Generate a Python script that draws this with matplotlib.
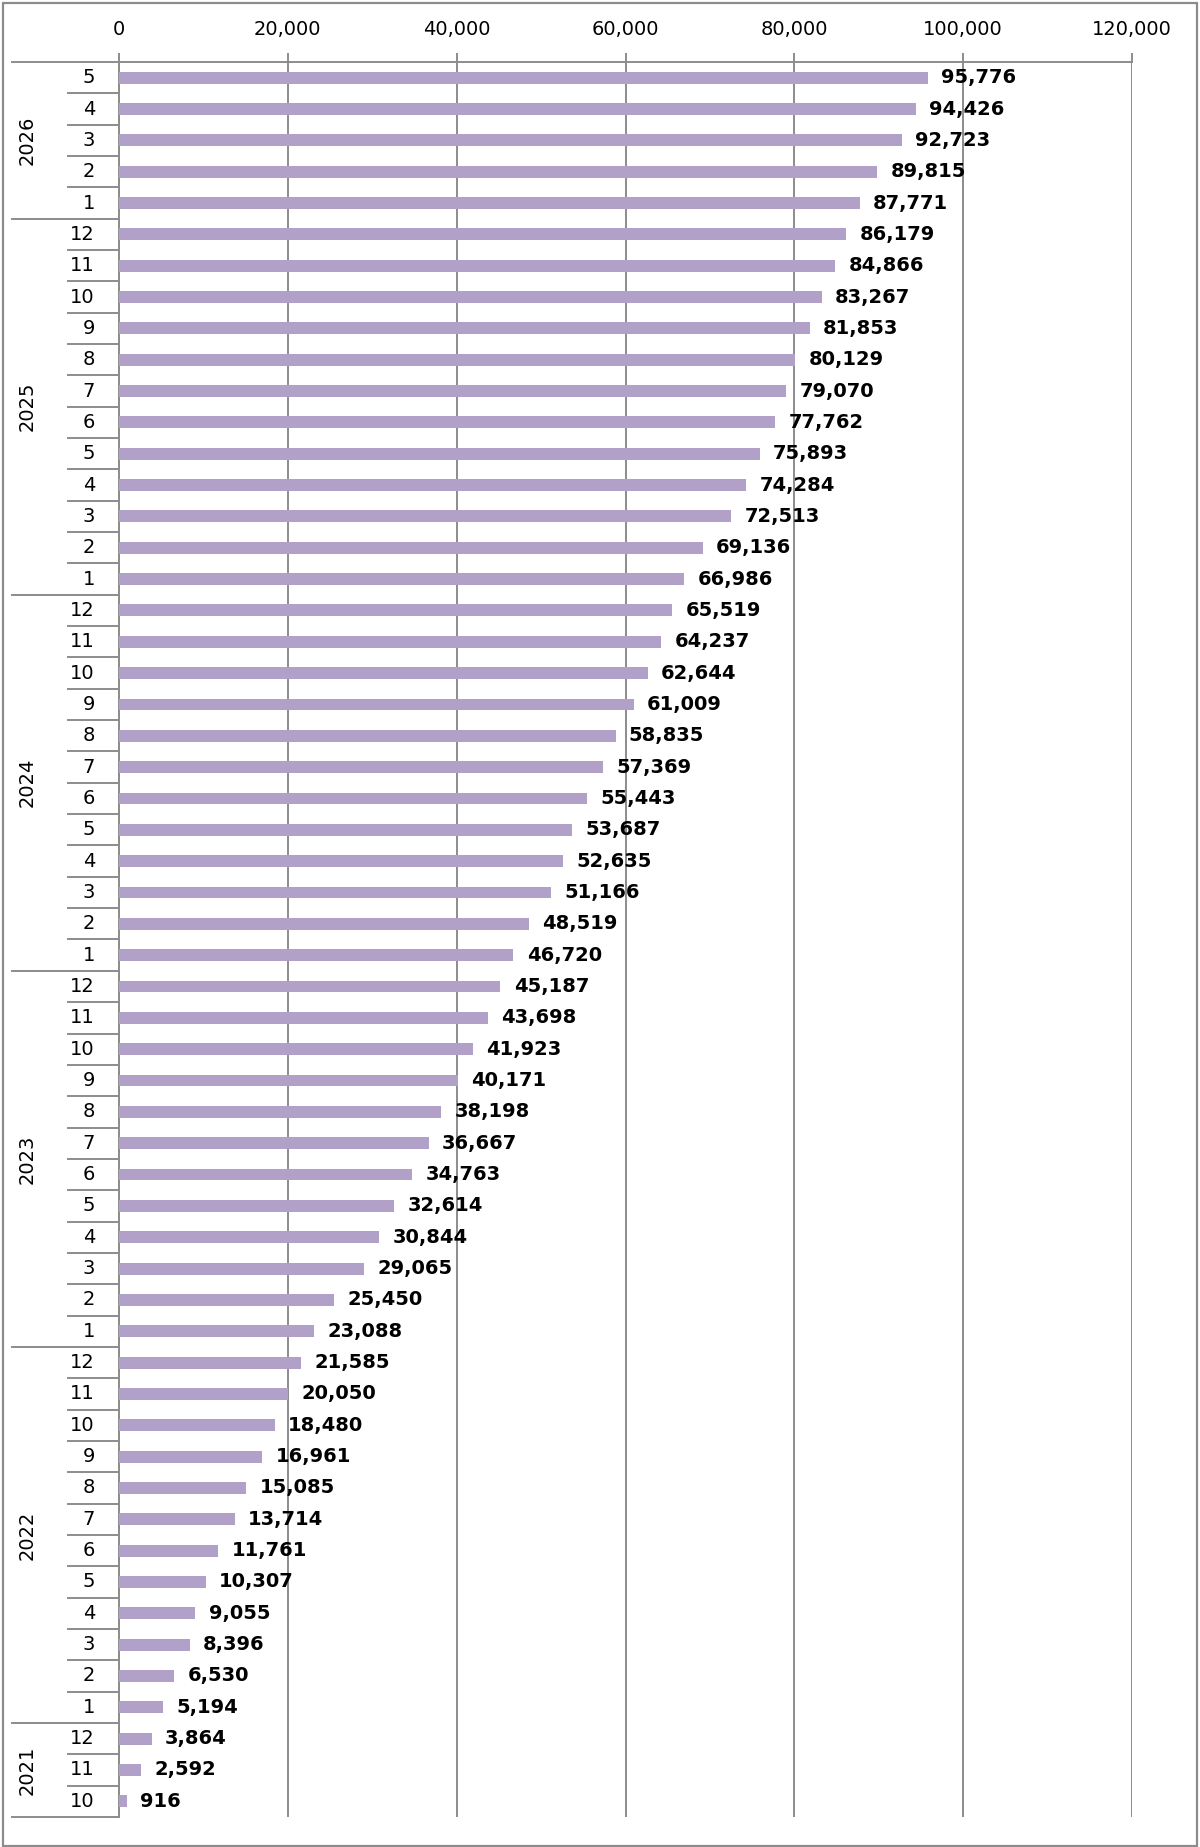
import matplotlib
matplotlib.use("Agg")
import matplotlib.pyplot as plt
import matplotlib.transforms as mtransforms
from matplotlib.lines import Line2D
from matplotlib.patches import Rectangle
from matplotlib.ticker import FuncFormatter

# ---- data (chronological) ----
years = [2021, 2022, 2023, 2024, 2025, 2026]
months_per_year = {
    2021: [10, 11, 12],
    2022: list(range(1, 13)),
    2023: list(range(1, 13)),
    2024: list(range(1, 13)),
    2025: list(range(1, 13)),
    2026: [1, 2, 3, 4, 5],
}
values_2021 = [916, 2592, 3864]
values_2022 = [5194, 6530, 8396, 9055, 10307, 11761, 13714, 15085, 16961, 18480, 20050, 21585]
values_2023 = [23088, 25450, 29065, 30844, 32614, 34763, 36667, 38198, 40171, 41923, 43698, 45187]
values_2024 = [46720, 48519, 51166, 52635, 53687, 55443, 57369, 58835, 61009, 62644, 64237, 65519]
values_2025 = [66986, 69136, 72513, 74284, 75893, 77762, 79070, 80129, 81853, 83267, 84866, 86179]
values_2026 = [87771, 89815, 92723, 94426, 95776]
x_ticks = [0, 20000, 40000, 60000, 80000, 100000, 120000]

values_by_year = {2021: values_2021, 2022: values_2022, 2023: values_2023,
                  2024: values_2024, 2025: values_2025, 2026: values_2026}

values, month_labels, year_of = [], [], []
for y in years:
    for m, v in zip(months_per_year[y], values_by_year[y]):
        values.append(v)
        month_labels.append(str(m))
        year_of.append(y)
n = len(values)

W, H = 1200, 1847
fig = plt.figure(figsize=(W / 100, H / 100), dpi=100)
fig.patch.set_facecolor("white")

left_px, right_px, top_px, bot_px = 119, 1132, 62, 1817
ax = fig.add_axes([left_px / W, 1 - bot_px / H, (right_px - left_px) / W, (bot_px - top_px) / H])

gray = "#8c8c8c"
bar_color = "#b1a1c8"

pos = list(range(n))
ax.barh(pos, values, height=0.38, color=bar_color, zorder=3)
ax.set_ylim(-0.5, n - 0.5)
ax.set_xlim(0, 120000)
ax.set_yticks([])

ax.xaxis.tick_top()
ax.set_xticks(x_ticks)
ax.xaxis.set_major_formatter(FuncFormatter(lambda v, p: f"{int(v):,}"))
ax.tick_params(axis="x", direction="out", length=6.5, width=1.4, color=gray,
               labelsize=14, pad=10, labelcolor="#000000")
ax.grid(axis="x", color=gray, linewidth=1.4, zorder=1)
for s in ["right", "bottom"]:
    ax.spines[s].set_visible(False)
for s in ["top", "left"]:
    ax.spines[s].set_color(gray)
    ax.spines[s].set_linewidth(1.4)

# data labels
for p, v in zip(pos, values):
    ax.annotate(f"{v:,}", xy=(v, p), xytext=(9.5, 0), textcoords="offset points",
                ha="left", va="center", fontsize=14, fontweight="bold", color="black", zorder=4)

# category axis (two levels)
trans = mtransforms.blended_transform_factory(fig.transFigure, ax.transData)
for p, lab in zip(pos, month_labels):
    fig.text(95 / W, p, lab, transform=trans, ha="right", va="center", fontsize=14, color="black")

# divider lines
for i in range(n + 1):
    yb = i - 0.5
    is_year_boundary = (i == 0 or i == n or year_of[i] != year_of[i - 1])
    x0 = 12 / W if is_year_boundary else 68 / W
    fig.add_artist(Line2D([x0, left_px / W], [yb, yb], transform=trans, color=gray,
                          linewidth=1.4, clip_on=False))

# year labels
start = 0
for y in years:
    cnt = len(months_per_year[y])
    center = start + (cnt - 1) / 2
    fig.text(27 / W, center, str(y), transform=trans, ha="center", va="center",
             rotation=90, fontsize=14, color="black")
    start += cnt

# outer border
fig.add_artist(Rectangle((3 / W, 1 / H), (1197 - 3) / W, (1845 - 2) / H, transform=fig.transFigure,
                         fill=False, edgecolor=gray, linewidth=1.6))

fig.savefig("out.png", dpi=100, facecolor="white")
